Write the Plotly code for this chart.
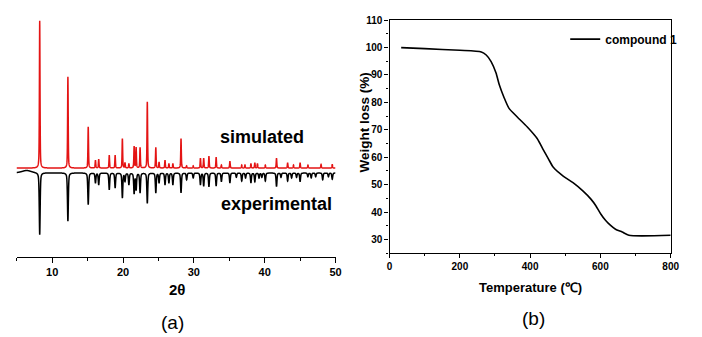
import numpy as np
import plotly.graph_objects as go

# ---------------- data: panel (a) PXRD ----------------
# simulated pattern: peak positions (2theta) and relative intensities
sim_pos = [8.24, 12.22, 15.09, 16.11, 16.57, 18.06, 18.89, 19.91, 20.28, 20.83,
           21.57, 21.85, 22.41, 23.43, 24.63, 25.09, 25.93, 26.48, 27.04, 28.19,
           28.98, 29.91, 30.93, 31.39, 32.13, 33.15, 33.89, 35.09, 36.76, 37.22,
           38.06, 38.61, 38.98, 40.09, 41.67, 43.24, 44.07, 45.00, 46.11, 47.96, 49.54]
sim_int = [100, 62, 28, 5.3, 6, 8.7, 8.7, 20, 3.5, 3,
           14.7, 14, 14, 45, 14, 4, 5.3, 3, 3, 20,
           1.5, 1.5, 6.7, 6.7, 8, 7.3, 2, 4.7, 2, 2,
           3, 3.5, 3, 2, 6.7, 3.5, 2, 3.5, 2, 2.5, 2.5]

# experimental pattern (plotted inverted): peak positions and relative intensities
exp_pos = [6.40, 8.24, 12.22, 15.09, 16.11, 16.57, 18.06, 18.89, 19.91, 20.28, 20.83,
           21.57, 21.85, 22.41, 23.43, 24.63, 25.09, 25.93, 26.48, 27.04, 28.19,
           28.98, 29.91, 30.93, 31.39, 32.13, 33.15, 33.89, 35.09, 36.00, 36.76,
           37.30, 38.06, 38.61, 39.20, 39.60, 40.09, 41.67, 42.30, 43.24, 43.80,
           44.50, 45.00, 46.10, 46.57, 47.20, 48.19, 49.00, 49.54]
exp_int = [-4, 100, 78, 51, 16, 19, 27, 24, 40, 13, 19,
           33, 27, 32, 49, 32, 16, 19, 16, 19, 32,
           11, 8, 19, 21, 22, 21, 14, 16, 7, 13,
           8, 16, 14, 8, 7, 13, 22, 7, 13, 8,
           7, 14, 6, 8, 6, 11, 6, 10]
exp_fwhm = [1.6] + [0.15] * (len(exp_pos) - 1)

# ---------------- data: panel (b) TGA ----------------
tga_temp = [33, 100, 200, 261, 275, 289, 303, 312, 326, 340, 364, 392, 420, 438,
            452, 466, 494, 522, 550, 573, 587, 601, 615, 629, 643, 662, 681, 800]
tga_weight = [100.0, 99.6, 99.0, 98.4, 97.3, 94.9, 90.7, 86.5, 81.7, 77.8, 74.6,
              71.0, 66.8, 62.6, 59.4, 56.3, 53.1, 50.7, 47.7, 44.7, 42.3, 39.3,
              36.9, 35.1, 33.7, 32.7, 31.5, 31.5]

x_ticks_a = [10, 20, 30, 40, 50]
x_ticks_b = [0, 200, 400, 600, 800]
y_ticks_b = [30, 40, 50, 60, 70, 80, 90, 100, 110]

RED = "#e41414"
FONT = "Liberation Sans"


def pv(x, x0, fwhm, eta=0.5):
    hw = fwhm / 2.0
    d = (x - x0) / hw
    return eta / (1 + d * d) + (1 - eta) * np.exp(-np.log(2) * d * d)


grid = np.round(np.arange(4.9, 50.001, 0.01), 2)
sim_curve = np.zeros_like(grid)
for p, a in zip(sim_pos, sim_int):
    sim_curve += a * pv(grid, p, 0.10)
exp_curve = np.zeros_like(grid)
for p, a, w in zip(exp_pos, exp_int, exp_fwhm):
    exp_curve += a * pv(grid, p, w)

EXP_SCALE = 0.42
EXP_OFFSET = -3.3

fig = go.Figure()
fig.add_trace(go.Scatter(x=grid, y=sim_curve, mode="lines", name="simulated",
                         line=dict(color=RED, width=1.5, simplify=False),
                         xaxis="x", yaxis="y", showlegend=False))
fig.add_trace(go.Scatter(x=grid, y=EXP_OFFSET - EXP_SCALE * exp_curve, mode="lines",
                         name="experimental",
                         line=dict(color="black", width=1.5, simplify=False),
                         xaxis="x", yaxis="y", showlegend=False))
fig.add_trace(go.Scatter(x=tga_temp, y=tga_weight, mode="lines", name="compound 1",
                         line=dict(color="black", width=1.6, shape="spline", smoothing=0.6),
                         xaxis="x2", yaxis="y2", showlegend=True))

W, H = 702, 337


def px(x):
    return x / W


def py(y):
    return 1 - y / H


tickfont = dict(family=FONT, size=11, color="black", weight="bold")
tickfont_b = dict(family=FONT, size=10, color="black", weight="bold")

fig.update_layout(
    width=W, height=H, autosize=False,
    margin=dict(l=0, r=0, t=0, b=0),
    paper_bgcolor="white", plot_bgcolor="white",
    font=dict(family=FONT, color="black"),
    xaxis=dict(domain=[px(14), px(338.3)], anchor="y", range=[5, 50],
               showline=True, linecolor="black", linewidth=1.2,
               showgrid=False, zeroline=False,
               tickvals=x_ticks_a, ticks="outside", ticklen=5, tickwidth=1.2,
               tickcolor="black", tickfont=tickfont,
               minor=dict(ticks="outside", ticklen=3, dtick=5, tick0=0,
                          tickcolor="black", tickwidth=1.2, showgrid=False)),
    yaxis=dict(domain=[py(255.5), 1], anchor="x", range=[-(255.5 - 165) / 1.5, 110],
               visible=False, showgrid=False, zeroline=False),
    xaxis2=dict(domain=[px(393.3), px(679.3)], anchor="y2", range=[0, 800],
                showline=True, mirror=True, linecolor="black", linewidth=1.3,
                showgrid=False, zeroline=False,
                tickvals=x_ticks_b, ticks="outside", ticklen=4, tickwidth=1.2,
                tickcolor="black", tickfont=tickfont_b,
                minor=dict(ticks="outside", ticklen=2, dtick=100, tick0=0,
                           tickcolor="black", tickwidth=1.2, showgrid=False)),
    yaxis2=dict(domain=[py(251.6), py(14.43)], anchor="x2", range=[25, 110],
                showline=True, mirror=True, linecolor="black", linewidth=1.3,
                showgrid=False, zeroline=False,
                tickvals=y_ticks_b, ticks="outside", ticklen=4, tickwidth=1.2,
                tickcolor="black", tickfont=tickfont_b,
                minor=dict(ticks="outside", ticklen=2, dtick=5, tick0=0,
                           tickcolor="black", tickwidth=1.2, showgrid=False)),
    legend=dict(x=px(572), y=py(19), xanchor="left", yanchor="top",
                bgcolor="rgba(0,0,0,0)", borderwidth=0, itemwidth=30,
                font=dict(family=FONT, size=12, color="black", weight="bold")),
)

ann = [
    dict(text="simulated", x=px(264), y=py(133), size=18, weight="bold"),
    dict(text="experimental", x=px(278), y=py(201.7), size=18, weight="bold"),
    dict(text="2θ", x=px(177), y=py(289), size=15, weight="bold"),
    dict(text="(a)", x=px(172), y=py(322), size=19, weight="normal"),
    dict(text="Temperature (℃)", x=px(536.5), y=py(287), size=13, weight="bold"),
    dict(text="(b)", x=px(540), y=py(318), size=19, weight="normal"),
]
for a in ann:
    fig.add_annotation(text=a["text"], x=a["x"], y=a["y"], xref="paper", yref="paper",
                       xanchor="center", yanchor="middle", showarrow=False,
                       font=dict(family=FONT, size=a["size"], color="black",
                                 weight=a["weight"]))
fig.add_annotation(text="Weight loss (%)", x=px(368), y=py(119), xref="paper",
                   yref="paper", xanchor="center", yanchor="middle", showarrow=False,
                   textangle=-90,
                   font=dict(family=FONT, size=13.5, color="black", weight="bold"))

fig.write_html(
    "out.html",
    config={"displayModeBar": False},
    post_script="document.body.style.margin='0';document.body.style.padding='0';"
                "document.body.style.overflow='hidden';"
                "document.documentElement.style.overflow='hidden';",
)
